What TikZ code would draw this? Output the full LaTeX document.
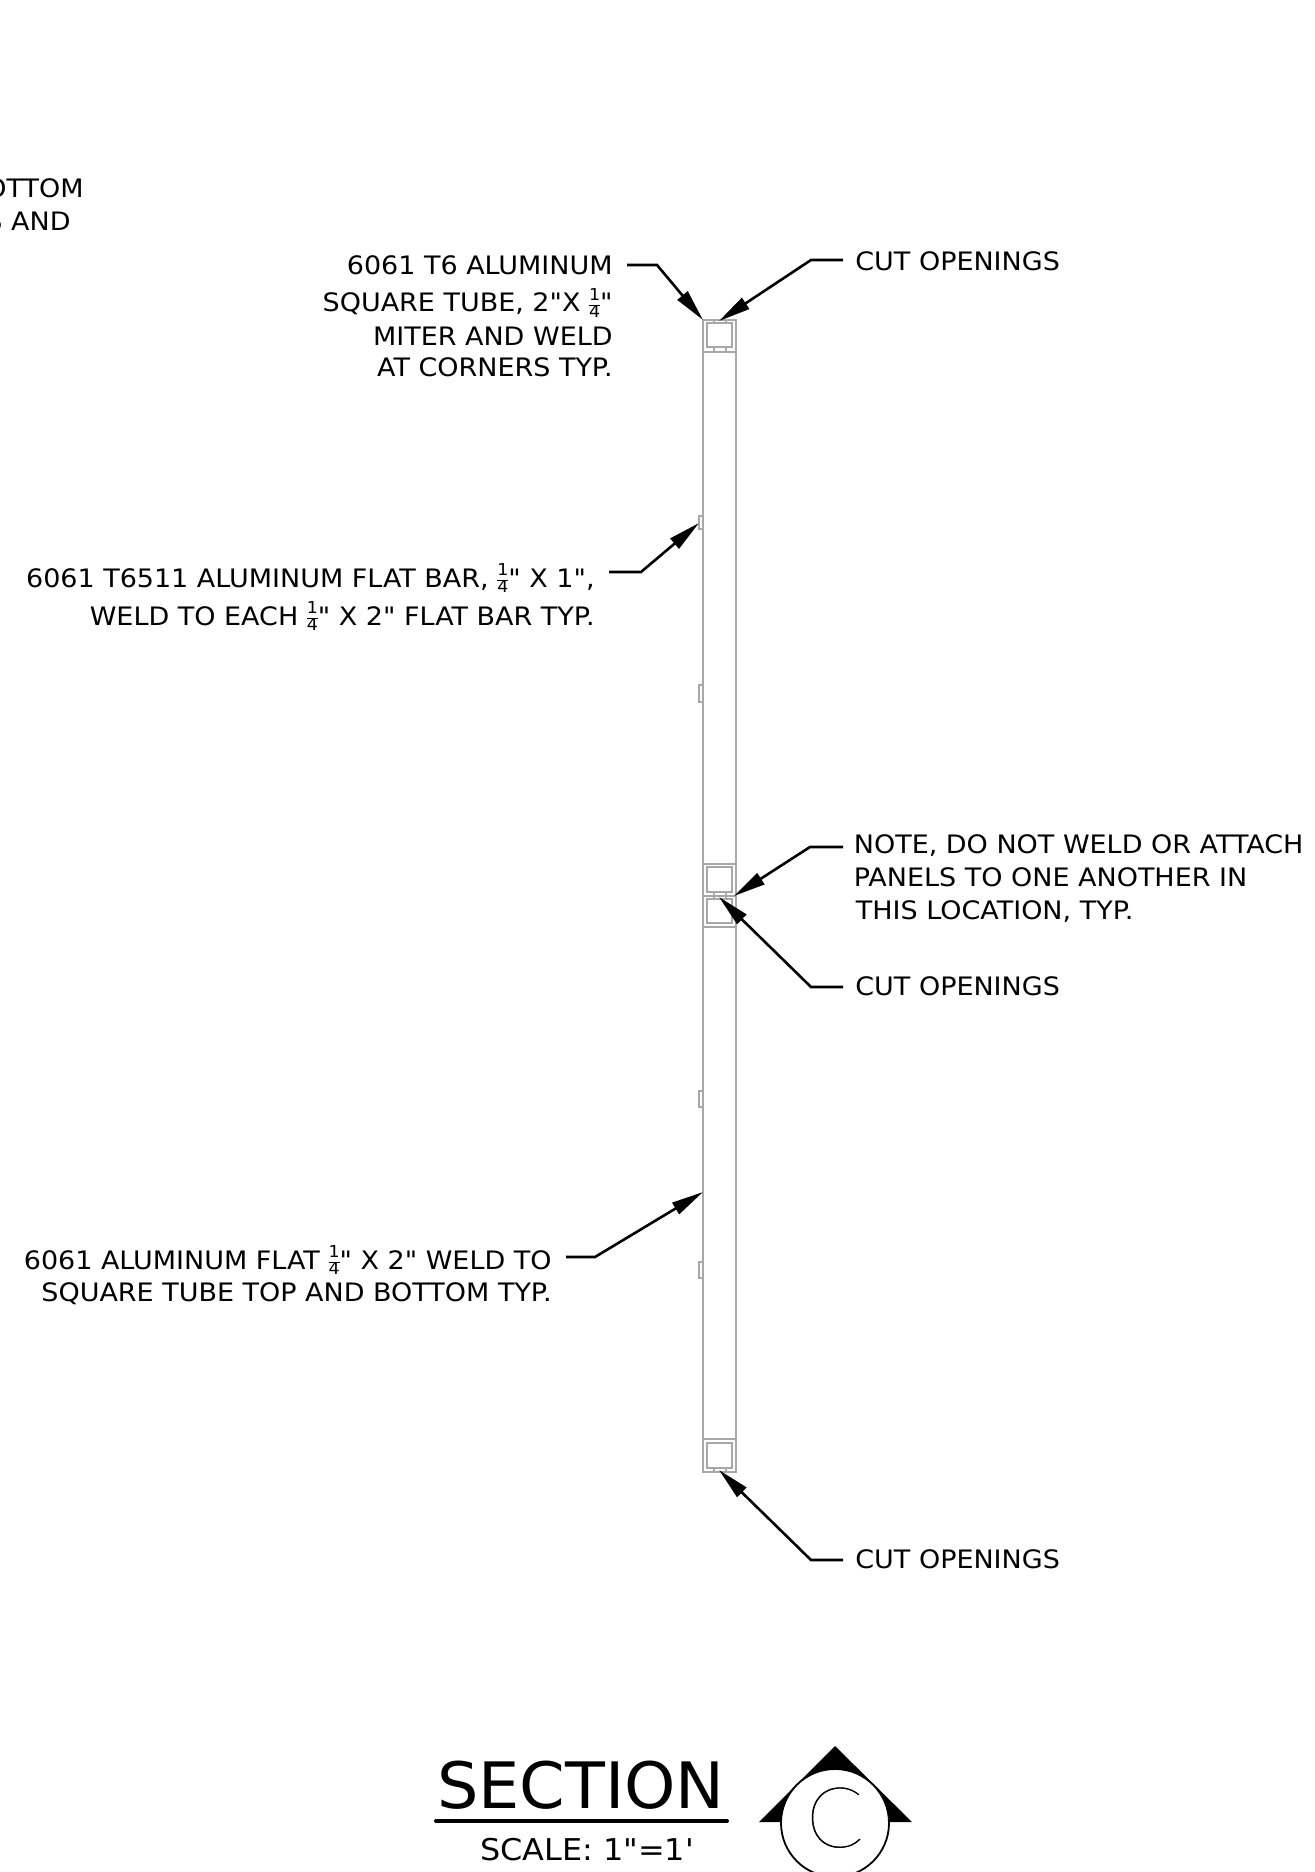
\documentclass[tikz,border=0pt]{standalone}
\usepackage{fontspec}
\setmainfont{DejaVu Sans}
\newfontfamily\vf[FakeStretch=1.062]{DejaVu Sans}
\newfontfamily\vfb[FakeStretch=1.02]{DejaVu Sans}
\newfontfamily\thinfont[FakeBold=0.6]{Lato Hairline}
\usetikzlibrary{arrows.meta}
\definecolor{part}{gray}{0.66}
\newcommand{\fq}{\raisebox{-2.6pt}{\fontsize{8.2}{8.2}\selectfont\renewcommand{\arraystretch}{0.82}\setlength{\arrayrulewidth}{0.35pt}\setlength{\tabcolsep}{0pt}\begin{tabular}[b]{@{}c@{}}1\\\hline 4\end{tabular}}}
\tikzset{
  x=0.5pt,y=-0.5pt,
  partline/.style={draw=part,line width=1pt},
  leader/.style={draw=black,line width=1.3pt,-{Triangle[length=16pt,width=6.5pt]}},
  lbl/.style={inner sep=0pt,font=\vf\fontsize{12.7}{15}\selectfont},
  rlbl/.style={lbl,anchor=base east},
  llbl/.style={lbl,anchor=base west},
}
\begin{document}
\begin{tikzpicture}
\useasboundingbox (0,0) rectangle (1315,1872);
\clip (0,0) rectangle (1315,1872);
% panels
\path[partline] (703,320) rectangle (736,896);
\path[partline] (703,896) rectangle (736,1472);
\foreach \y in {352,864,927,1439} \path[partline] (703,\y) -- (736,\y);
% inner tubes
\foreach \t/\b in {323/347,867/892,899/923,1443/1468}
  \path[partline] (707,\t) rectangle (731.5,\b);
% ticks
\foreach \x in {713.5,725.5}{
  \path[partline] (\x,320) -- (\x,323);
  \path[partline] (\x,347) -- (\x,352);
  \path[partline] (\x,892) -- (\x,899);
  \path[partline] (\x,1468) -- (\x,1472);
}
% flat bars
\foreach \t/\b in {516/529,685/702,1091/1107,1262/1278}
  \path[draw=part,line width=0.6pt] (699,\t) rectangle (703,\b);
% labels
\node[rlbl] (a1) at (613,275) {6061 T6 ALUMINUM};
\node[rlbl] (a2) at (613,312) {SQUARE TUBE, 2"X \fq"};
\node[rlbl] (a3) at (613,345) {MITER AND WELD};
\node[rlbl] (a4) at (613,377) {AT CORNERS TYP.};
\node[llbl] (b1) at (855,271) {CUT OPENINGS};
\node[rlbl] (c1) at (595,587) {6061 T6511 ALUMINUM FLAT BAR, \fq" X 1",};
\node[rlbl] (c2) at (595,625) {WELD TO EACH \fq" X 2" FLAT BAR TYP.};
\node[llbl] (d1) at (853.5,853) {NOTE, DO NOT WELD OR ATTACH};
\node[llbl] (d2) at (853.5,886) {PANELS TO ONE ANOTHER IN};
\node[llbl] (d3) at (855.5,919) {THIS LOCATION, TYP.};
\node[llbl] (e1) at (855,995) {CUT OPENINGS};
\node[rlbl] (f1) at (552,1269) {6061 ALUMINUM FLAT \fq" X 2" WELD TO};
\node[rlbl] (f2) at (552,1301) {SQUARE TUBE TOP AND BOTTOM TYP.};
\node[llbl] (g1) at (855,1568) {CUT OPENINGS};
\node[rlbl] (h1) at (84,198) {OTTOM};
\node[rlbl] (h2) at (71,231) {S AND};
% leader points
\coordinate (as) at (627,265); \coordinate (ae) at (657,265); \coordinate (at) at (703,320);
\coordinate (bs) at (843,260); \coordinate (be) at (811,260); \coordinate (bt) at (719,321);
\coordinate (cs) at (609,572); \coordinate (ce) at (641,572); \coordinate (ct) at (699,523);
\coordinate (ds) at (843,847); \coordinate (de) at (810,847); \coordinate (dt) at (734,896);
\coordinate (es) at (843,987); \coordinate (ee) at (811,987); \coordinate (et) at (719,897);
\coordinate (fs) at (566,1257); \coordinate (fe) at (595,1257); \coordinate (ft) at (703,1192);
\coordinate (gs) at (843,1560); \coordinate (ge) at (811,1560); \coordinate (gt) at (719,1470);
\foreach \n in {a,b,c,d,e,f,g}
  \draw[leader] (\n s) -- (\n e) -- (\n t);
% title
\node[inner sep=0pt,anchor=base,font=\vfb\fontsize{32}{36}\selectfont] (sec) at (581,1808) {SECTION};
\coordinate (ul) at (436,1821); \coordinate (ur) at (727,1821);
\draw[line width=2pt,line cap=round] (ul) -- (ur);
\node[inner sep=0pt,anchor=base,font=\vf\fontsize{15}{18}\selectfont] (sc) at (587,1860) {SCALE: 1"=1'};
% bubble
\coordinate (apex) at (835,1746); \coordinate (bl) at (759,1822); \coordinate (br) at (912,1822);
\fill (bl) -- (apex) -- (br) -- cycle;
\node[circle,draw=black,fill=white,line width=0.9pt,minimum size=54pt,inner sep=0pt] (bub) at (835,1823) {};
\node[inner sep=0pt,anchor=base,font=\thinfont\fontsize{42}{46}\selectfont] (cc) at (835,1847) {C};
\end{tikzpicture}
\end{document}
